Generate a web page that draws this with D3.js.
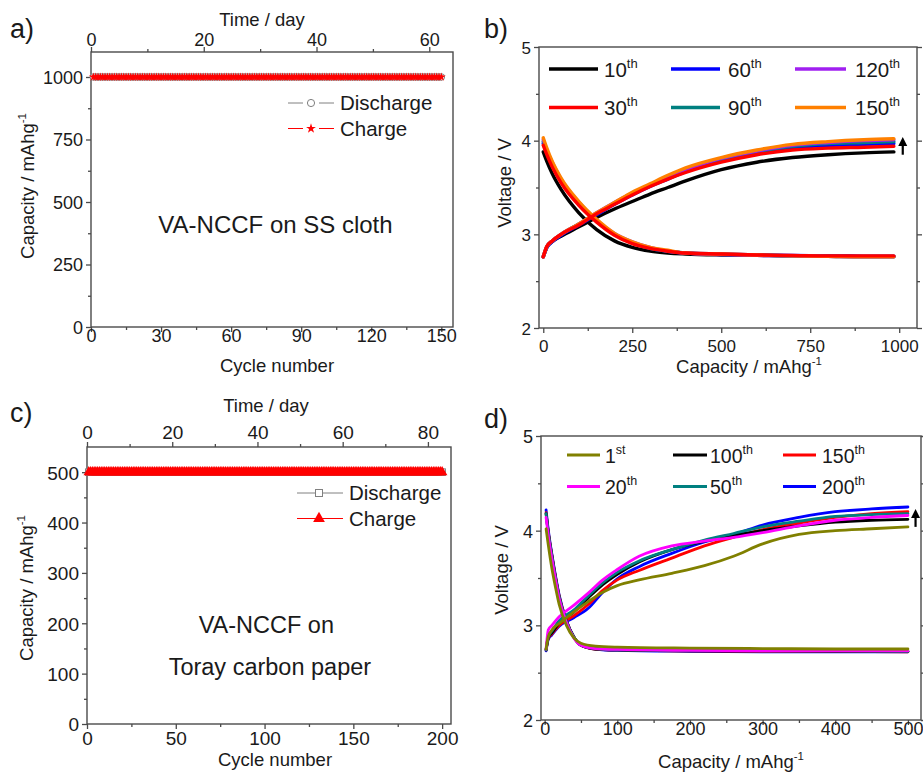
<!DOCTYPE html>
<html lang="en">
<head>
<meta charset="UTF-8">
<title>VA-NCCF cycling</title>
<script src="https://d3js.org/d3.v7.min.js"></script>
<style>
    body { margin: 0; background: #fff; }
    svg { display: block; }
</style>
</head>
<body>
<script>
// ---- data ----
const cyclesA = d3.range(1, 151);          // panel a cycle numbers
const capacityA = 1000;                     // fixed capacity, mAh/g
const cyclesC = d3.range(1, 201);          // panel c cycle numbers
const capacityC = 500;
const cyclesPerDayA = 2.414;
const cyclesPerDayC = 2.40;

// panel b: capacity points (mAh/g) and voltages
const bCap = [0, 10, 25, 50, 100, 150, 200, 250, 300, 350, 400, 500, 600, 700, 800, 900, 985];
const bLabels = ["10", "30", "60", "90", "120", "150"];
const bColors = ["#000000", "#ff0000", "#0000ff", "#008080", "#a020f0", "#ff8000"];
const bCharge = [
    [2.76, 2.86, 2.92, 2.98, 3.08, 3.18, 3.27, 3.35, 3.43, 3.50, 3.57, 3.69, 3.77, 3.82, 3.85, 3.87, 3.88],
    [2.76, 2.87, 2.93, 3.00, 3.10, 3.22, 3.32, 3.42, 3.51, 3.59, 3.66, 3.77, 3.85, 3.90, 3.92, 3.93, 3.94],
    [2.76, 2.86, 2.92, 2.99, 3.10, 3.21, 3.32, 3.42, 3.51, 3.59, 3.67, 3.78, 3.86, 3.92, 3.95, 3.96, 3.97],
    [2.76, 2.87, 2.93, 3.00, 3.11, 3.22, 3.33, 3.43, 3.52, 3.61, 3.68, 3.80, 3.88, 3.94, 3.97, 3.98, 3.99],
    [2.76, 2.87, 2.93, 3.00, 3.11, 3.23, 3.34, 3.44, 3.53, 3.62, 3.69, 3.81, 3.89, 3.95, 3.98, 4.00, 4.01],
    [2.76, 2.87, 2.93, 3.00, 3.11, 3.23, 3.34, 3.45, 3.54, 3.63, 3.71, 3.82, 3.90, 3.96, 3.99, 4.01, 4.02]
];
const bDischarge = [
    [3.88, 3.78, 3.65, 3.48, 3.23, 3.05, 2.93, 2.86, 2.82, 2.80, 2.79, 2.78, 2.775, 2.77, 2.77, 2.765, 2.765],
    [3.95, 3.85, 3.72, 3.55, 3.31, 3.13, 2.99, 2.90, 2.85, 2.82, 2.80, 2.79, 2.78, 2.775, 2.77, 2.77, 2.77],
    [3.97, 3.87, 3.74, 3.57, 3.33, 3.14, 3.00, 2.91, 2.85, 2.82, 2.80, 2.79, 2.78, 2.775, 2.77, 2.765, 2.765],
    [3.99, 3.89, 3.76, 3.58, 3.34, 3.15, 3.00, 2.91, 2.85, 2.82, 2.80, 2.785, 2.78, 2.77, 2.765, 2.76, 2.76],
    [4.01, 3.90, 3.77, 3.59, 3.34, 3.15, 3.01, 2.92, 2.86, 2.82, 2.80, 2.785, 2.775, 2.77, 2.765, 2.76, 2.76],
    [4.03, 3.92, 3.78, 3.60, 3.35, 3.16, 3.01, 2.92, 2.86, 2.83, 2.80, 2.79, 2.78, 2.77, 2.765, 2.76, 2.76]
];
const bDrawOrder = [0, 2, 3, 4, 5, 1];

// panel d
const dChCap = [2, 5, 10, 20, 40, 60, 80, 100, 130, 175, 220, 260, 300, 350, 400, 450, 500];
const dDisCap = [2, 5, 10, 15, 20, 30, 40, 50, 70, 100, 200, 300, 400, 500];
const dLabels = ["1", "20", "50", "100", "150", "200"];
const dSups = ["st", "th", "th", "th", "th", "th"];
const dColors = ["#808000", "#ff00ff", "#008080", "#000000", "#ff0000", "#0000ff"];
const dCharge = [
    [2.75, 2.88, 2.95, 3.02, 3.14, 3.25, 3.35, 3.42, 3.48, 3.55, 3.63, 3.73, 3.86, 3.96, 4.00, 4.02, 4.04],
    [2.75, 2.95, 3.00, 3.09, 3.21, 3.34, 3.48, 3.59, 3.73, 3.84, 3.89, 3.93, 3.98, 4.05, 4.11, 4.14, 4.16],
    [2.74, 2.88, 2.94, 3.05, 3.16, 3.31, 3.45, 3.56, 3.68, 3.80, 3.90, 3.97, 4.04, 4.10, 4.15, 4.17, 4.18],
    [2.74, 2.87, 2.92, 3.02, 3.14, 3.29, 3.43, 3.54, 3.67, 3.80, 3.89, 3.95, 4.00, 4.05, 4.09, 4.11, 4.12],
    [2.74, 2.86, 2.91, 3.00, 3.10, 3.22, 3.37, 3.48, 3.58, 3.71, 3.84, 3.93, 4.01, 4.08, 4.14, 4.18, 4.20],
    [2.73, 2.85, 2.90, 2.99, 3.08, 3.18, 3.35, 3.49, 3.62, 3.76, 3.88, 3.96, 4.06, 4.14, 4.20, 4.23, 4.25]
];
const dDischarge = [
    [4.02, 3.85, 3.60, 3.40, 3.22, 3.00, 2.87, 2.81, 2.78, 2.77, 2.76, 2.755, 2.75, 2.75],
    [4.14, 3.95, 3.70, 3.48, 3.28, 3.03, 2.87, 2.79, 2.755, 2.745, 2.735, 2.73, 2.73, 2.73],
    [4.18, 3.98, 3.73, 3.50, 3.30, 3.04, 2.88, 2.79, 2.755, 2.74, 2.735, 2.73, 2.73, 2.725],
    [4.18, 3.98, 3.73, 3.50, 3.30, 3.04, 2.88, 2.79, 2.75, 2.74, 2.73, 2.73, 2.725, 2.725],
    [4.19, 3.99, 3.74, 3.51, 3.31, 3.05, 2.88, 2.79, 2.75, 2.74, 2.73, 2.725, 2.725, 2.72],
    [4.22, 4.01, 3.75, 3.52, 3.32, 3.05, 2.88, 2.79, 2.75, 2.735, 2.725, 2.72, 2.72, 2.72]
];
const dDrawOrder = [5, 4, 3, 2, 1, 0];
const dLegendOrder = [0, 1, 3, 2, 4, 5];   // filled column by column

// ---- setup ----
const FONT = "'Liberation Sans', Arial, sans-serif";
const AX = "#4a4a4a";
const TXT = "#1a1a1a";

const svg = d3.select("body").append("svg")
    .attr("width", 923).attr("height", 773)
    .style("font-family", FONT);

function frame(x, y) {
    svg.append("rect")
        .attr("x", x.range()[0]).attr("y", y.range()[1])
        .attr("width", x.range()[1] - x.range()[0])
        .attr("height", y.range()[0] - y.range()[1])
        .attr("fill", "none").attr("stroke", AX).attr("stroke-width", 1.4);
}

function axis(orient, scale, pos, major, minor, fontSize, off) {
    const gen = {bottom: d3.axisBottom, top: d3.axisTop, left: d3.axisLeft, right: d3.axisRight}[orient];
    const horiz = orient === "bottom" || orient === "top";
    const tr = horiz ? `translate(0,${pos})` : `translate(${pos},0)`;
    const gm = svg.append("g").attr("transform", tr)
        .call(gen(scale).tickValues(minor).tickSize(3).tickFormat(""));
    const gM = svg.append("g").attr("transform", tr)
        .call(gen(scale).tickValues(major).tickSize(5).tickFormat(fontSize ? d3.format("d") : ""));
    [gm, gM].forEach(s => {
        s.select(".domain").remove();
        s.selectAll("line").attr("stroke", AX).attr("stroke-width", 1.3);
    });
    if (fontSize) {
        const t = gM.selectAll("text")
            .attr("font-size", fontSize).attr("fill", TXT).attr("font-family", FONT);
        if (horiz) t.attr("y", off).attr("dy", 0);
        else t.attr("x", off).attr("dy", "0.36em");
    }
}

function title(x, y, txt, sup, size, rotate) {
    const t = svg.append("text")
        .attr("text-anchor", "middle").attr("font-size", size).attr("fill", TXT)
        .attr("transform", rotate ? `translate(${x},${y}) rotate(-90)` : `translate(${x},${y})`);
    t.append("tspan").text(txt);
    if (sup) t.append("tspan").attr("font-size", size * 0.62).attr("dy", -size * 0.42).text(sup);
}

function panelLabel(x, y, txt) {
    svg.append("text").attr("x", x).attr("y", y).attr("font-size", 27).attr("fill", TXT).text(txt);
}

function arrow(x0, y0, y1) {
    svg.append("line").attr("x1", x0).attr("x2", x0).attr("y1", y0).attr("y2", y1 + 7)
        .attr("stroke", "#000").attr("stroke-width", 2.2);
    svg.append("path")
        .attr("d", `M${x0 - 4.5},${y1 + 9}L${x0},${y1}L${x0 + 4.5},${y1 + 9}Z`)
        .attr("fill", "#000");
}

// ---- panel a ----
{
    const x = d3.scaleLinear().domain([0, 155]).range([91, 453]);
    const xt = d3.scaleLinear().domain([0, 155 / cyclesPerDayA]).range([91, 453]);
    const y = d3.scaleLinear().domain([0, 1100]).range([327, 52]);
    frame(x, y);
    axis("bottom", x, 327, d3.range(0, 151, 30), d3.range(15, 151, 30), 18, 15);
    axis("left", y, 91, d3.range(0, 1001, 250), d3.range(125, 1100, 250), 18, -8);
    axis("top", xt, 52, [0, 20, 40, 60], [10, 30, 50], 18, -6);

    const pts = cyclesA.map(c => [c, capacityA]);
    svg.append("path").datum(pts)
        .attr("d", d3.line().x(d => x(d[0])).y(d => y(d[1])))
        .attr("stroke", "#808080").attr("fill", "none");
    svg.append("g").selectAll("circle").data(pts).join("circle")
        .attr("cx", d => x(d[0])).attr("cy", d => y(d[1])).attr("r", 3.3)
        .attr("fill", "#fff").attr("stroke", "#808080");
    svg.append("g").selectAll("path").data(pts).join("path")
        .attr("transform", d => `translate(${x(d[0])},${y(d[1])})`)
        .attr("d", d3.symbol(d3.symbolStar, 24))
        .attr("fill", "#ff0000");

    // legend
    const lg = [{t: "Discharge", c: "#808080", s: "o"}, {t: "Charge", c: "#ff0000", s: "*"}];
    lg.forEach((e, i) => {
        const ly = 103 + i * 25.5;
        svg.append("line").attr("x1", 288).attr("x2", 303).attr("y1", ly).attr("y2", ly).attr("stroke", e.c);
        svg.append("line").attr("x1", 319).attr("x2", 334).attr("y1", ly).attr("y2", ly).attr("stroke", e.c);
        if (e.s === "o") {
            svg.append("circle").attr("cx", 311).attr("cy", ly).attr("r", 3.6)
                .attr("fill", "#fff").attr("stroke", e.c);
        } else {
            svg.append("path").attr("transform", `translate(311,${ly})`)
                .attr("d", d3.symbol(d3.symbolStar, 30)).attr("fill", e.c);
        }
        svg.append("text").attr("x", 340).attr("y", ly + 7).attr("font-size", 20.5)
            .attr("fill", TXT).text(e.t);
    });

    svg.append("text").attr("x", x(79)).attr("y", y(378)).attr("text-anchor", "middle")
        .attr("font-size", 24).attr("fill", TXT).text("VA-NCCF on SS cloth");

    title(277, 372, "Cycle number", null, 18.5);
    title(262, 26, "Time / day", null, 18.5);
    title(34, 186, "Capacity / mAhg", "-1", 18.5, true);
    panelLabel(10, 38, "a)");
}

// ---- panel b ----
{
    const x = d3.scaleLinear().domain([-12, 1050]).range([539, 917]);
    const y = d3.scaleLinear().domain([2, 5]).range([328, 47]);
    frame(x, y);
    axis("bottom", x, 328, d3.range(0, 1001, 250), d3.range(125, 1000, 250), 17, 24);
    axis("left", y, 539, [2, 3, 4, 5], [2.5, 3.5, 4.5], 17, -8);
    axis("right", y, 917, [2, 3, 4, 5], [2.5, 3.5, 4.5], null);

    const line = d3.line().x(d => x(d[0])).y(d => y(d[1])).curve(d3.curveMonotoneX);
    bDrawOrder.forEach(i => {
        [bCharge[i], bDischarge[i]].forEach(v => {
            svg.append("path").datum(bCap.map((c, k) => [c, v[k]]))
                .attr("d", line).attr("fill", "none")
                .attr("stroke", bColors[i]).attr("stroke-width", 3.4)
                .attr("stroke-linejoin", "round").attr("stroke-linecap", "round");
        });
    });

    const colX = [[549, 598, 604], [671, 720, 728], [795, 846, 855]];
    bLabels.forEach((lab, i) => {
        const col = colX[Math.floor(i / 2)];
        const ly = i % 2 === 0 ? 69 : 107.5;
        svg.append("line").attr("x1", col[0]).attr("x2", col[1]).attr("y1", ly).attr("y2", ly)
            .attr("stroke", bColors[i]).attr("stroke-width", 3.6);
        const t = svg.append("text").attr("x", col[2]).attr("y", ly + 7.5)
            .attr("font-size", 20.5).attr("fill", TXT);
        t.append("tspan").text(lab);
        t.append("tspan").attr("font-size", 13).attr("dy", -9).text("th");
    });

    arrow(x(1010), y(3.85), y(4.04));
    title(749, 373, "Capacity / mAhg", "-1", 18.5);
    title(511, 183, "Voltage / V", null, 18.5, true);
    panelLabel(484, 38, "b)");
}

// ---- panel c ----
{
    const x = d3.scaleLinear().domain([0, 205]).range([87, 451]);
    const xt = d3.scaleLinear().domain([0, 205 / cyclesPerDayC]).range([87, 451]);
    const y = d3.scaleLinear().domain([0, 550]).range([724, 447]);
    frame(x, y);
    axis("bottom", x, 724, d3.range(0, 201, 50), d3.range(25, 200, 50), 19, 21);
    axis("left", y, 87, d3.range(0, 501, 100), d3.range(50, 550, 100), 19, -8);
    axis("top", xt, 447, [0, 20, 40, 60, 80], [10, 30, 50, 70], 19, -8);

    const pts = cyclesC.map(c => [c, capacityC]);
    svg.append("path").datum(pts)
        .attr("d", d3.line().x(d => x(d[0])).y(d => y(d[1])))
        .attr("stroke", "#808080").attr("fill", "none");
    svg.append("g").selectAll("rect").data(pts).join("rect")
        .attr("x", d => x(d[0]) - 3.3).attr("y", d => y(d[1]) - 3.3)
        .attr("width", 6.6).attr("height", 6.6)
        .attr("fill", "#fff").attr("stroke", "#808080");
    svg.append("g").selectAll("path").data(pts).join("path")
        .attr("transform", d => `translate(${x(d[0])},${y(d[1])})`)
        .attr("d", d3.symbol(d3.symbolTriangle, 48))
        .attr("fill", "#ff0000");

    const lg = [{t: "Discharge", c: "#808080", s: "s"}, {t: "Charge", c: "#ff0000", s: "t"}];
    lg.forEach((e, i) => {
        const ly = 493 + i * 25.5;
        svg.append("line").attr("x1", 297).attr("x2", 343).attr("y1", ly).attr("y2", ly).attr("stroke", e.c);
        if (e.s === "s") {
            svg.append("rect").attr("x", 315.5).attr("y", ly - 3.5).attr("width", 7).attr("height", 7)
                .attr("fill", "#fff").attr("stroke", e.c);
        } else {
            svg.append("path").attr("transform", `translate(319,${ly})`)
                .attr("d", d3.symbol(d3.symbolTriangle, 60)).attr("fill", e.c);
        }
        svg.append("text").attr("x", 349).attr("y", ly + 7).attr("font-size", 20.5)
            .attr("fill", TXT).text(e.t);
    });

    svg.append("text").attr("x", x(101)).attr("y", y(180)).attr("text-anchor", "middle")
        .attr("font-size", 23.5).attr("fill", TXT).text("VA-NCCF on");
    svg.append("text").attr("x", x(103)).attr("y", y(98)).attr("text-anchor", "middle")
        .attr("font-size", 23.5).attr("fill", TXT).text("Toray carbon paper");

    title(275, 766, "Cycle number", null, 18.5);
    title(266, 412, "Time / day", null, 18.5);
    title(33, 588, "Capacity / mAhg", "-1", 18.5, true);
    panelLabel(10, 422, "c)");
}

// ---- panel d ----
{
    const x = d3.scaleLinear().domain([-5, 518]).range([541, 921]);
    const y = d3.scaleLinear().domain([2, 5]).range([720, 436]);
    frame(x, y);
    axis("bottom", x, 720, d3.range(0, 501, 100), d3.range(50, 500, 100), 18, 15);
    axis("left", y, 541, [2, 3, 4, 5], [2.5, 3.5, 4.5], 18, -8);
    axis("right", y, 921, [2, 3, 4, 5], [2.5, 3.5, 4.5], null);

    const line = d3.line().x(d => x(d[0])).y(d => y(d[1])).curve(d3.curveMonotoneX);
    dDrawOrder.forEach(i => {
        svg.append("path").datum(dChCap.map((c, k) => [c, dCharge[i][k]]))
            .attr("d", line).attr("fill", "none")
            .attr("stroke", dColors[i]).attr("stroke-width", 2.8).attr("stroke-linecap", "round");
        svg.append("path").datum(dDisCap.map((c, k) => [c, dDischarge[i][k]]))
            .attr("d", line).attr("fill", "none")
            .attr("stroke", dColors[i]).attr("stroke-width", 2.8).attr("stroke-linecap", "round");
    });

    const colX = [[567, 600, 605], [673, 707, 710], [783, 816, 822]];
    dLegendOrder.forEach((si, i) => {
        const col = colX[Math.floor(i / 2)];
        const ly = i % 2 === 0 ? 455 : 486.5;
        svg.append("line").attr("x1", col[0]).attr("x2", col[1]).attr("y1", ly).attr("y2", ly)
            .attr("stroke", dColors[si]).attr("stroke-width", 3);
        const t = svg.append("text").attr("x", col[2]).attr("y", ly + 7.5)
            .attr("font-size", 19.5).attr("fill", TXT);
        t.append("tspan").text(dLabels[si]);
        t.append("tspan").attr("font-size", 12.5).attr("dy", -9).text(dSups[si]);
    });

    arrow(x(510.5), y(4.04), y(4.23));
    title(731, 768, "Capacity / mAhg", "-1", 18.5);
    title(508, 570, "Voltage / V", null, 18.5, true);
    panelLabel(484, 428, "d)");
}
</script>
</body>
</html>
